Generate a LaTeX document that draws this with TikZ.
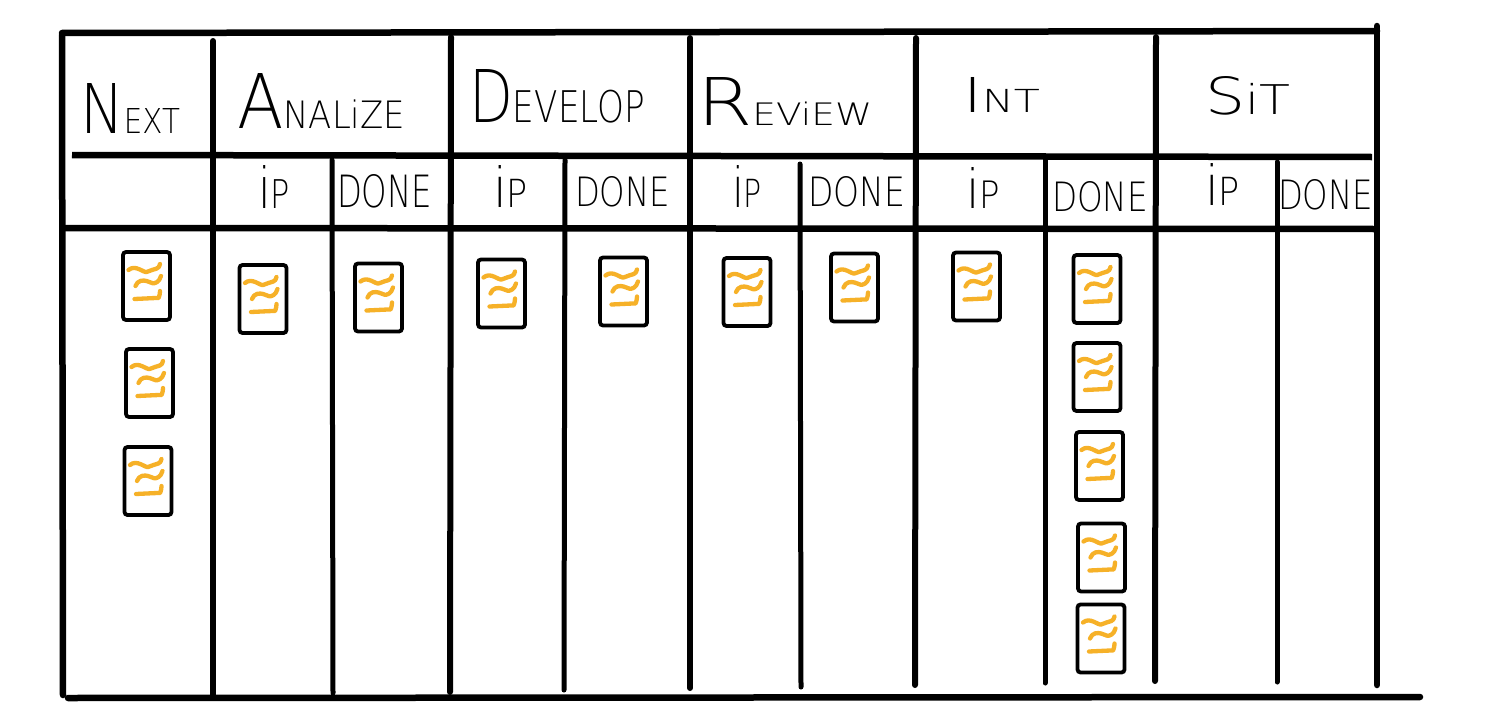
\documentclass[tikz,border=0pt]{standalone}
\usepackage{fontspec}
\setmainfont{DejaVu Sans ExtraLight}
\usepackage{graphicx}
\newcommand{\hwtitle}[5]{\resizebox{#1pt}{#2pt}{#3\scalebox{#5}{#4}}}
\newcommand{\hwbox}[3]{\resizebox{#1pt}{#2pt}{#3}}
\definecolor{stickyline}{HTML}{F6B128}
\tikzset{
  frame/.style={line width=6.5pt, line cap=round},
  major/.style={line width=6pt, line cap=round},
  minor/.style={line width=5pt, line cap=round},
  title/.style={anchor=south west, inner sep=0pt, outer sep=0pt},
  squig/.style={draw=stickyline, line width=4.3pt, line cap=round, line join=round},
  card/.style={draw, line width=3.8pt, rounded corners=3pt, minimum width=47pt,
    minimum height=68pt, inner sep=0pt, fill=white,
    path picture={
      \begin{scope}[shift={(path picture bounding box.center)}]
        \draw[squig] (-18,-16) .. controls (-11,-22) and (-3,-13) .. (3,-15)
                     .. controls (8,-17) and (13,-17) .. (13.5,-22);
        \draw[squig] (-11,0) .. controls (-9,-6) and (-3,-6) .. (3,-4)
                     .. controls (8,-2) and (13,-4) .. (14.5,-10);
        \draw[squig] (-12,13) -- (9,12) .. controls (12,12) and (13.5,9) .. (13.5,5);
      \end{scope}
    }}
}
\begin{document}
\begin{tikzpicture}[x=1pt,y=-1pt]
\useasboundingbox (0,0) rectangle (1500,712);
% outer frame
\draw[frame] (62,33) -- (1377,31);
\draw[frame] (62,35) -- (63,695);
\draw[frame] (68,698) -- (1420,697);
\draw[frame] (1377,26) -- (1377,685);
% horizontal dividers
\draw[line width=6.5pt] (72,155) -- (1372,157);
\draw[line width=6.5pt] (62,228) -- (1376,229);
% major verticals
\draw[major] (213,41) -- (213,695);
\draw[major] (451,37) -- (450,692);
\draw[major] (690,38) -- (690,688);
\draw[major] (916,38) -- (915,685);
\draw[major] (1156,37) -- (1155,681);
% minor verticals
\draw[minor] (332,160) -- (333,693);
\draw[minor] (565,160) -- (564,690);
\draw[minor] (800,164) -- (801,687);
\draw[minor] (1045,160) -- (1045,683);
\draw[minor] (1277,162) -- (1277,682);
% column titles
\node[title] (tNext) at (80,133) {\hwtitle{100}{50}{N}{EXT}{0.5}};
\node[title] (tAnalize) at (237,128) {\hwtitle{168}{55}{A}{NALiZE}{0.5}};
\node[title] (tDevelop) at (469,123) {\hwtitle{176}{53}{D}{EVELOP}{0.6}};
\node[title] (tReview) at (697,125) {\hwtitle{175}{48}{R}{EViEW}{0.47}};
\node[title] (tInt) at (963,112) {\hwtitle{77}{35}{I}{NT}{0.66}};
\node[title] (tSit) at (1205,115) {\hwtitle{85}{38}{S}{iT}{0.8}};
% sub titles
\node[title] (ipA) at (258,208) {\hwbox{32}{43}{i\scalebox{0.7}{P}}};
\node[title] (doneA) at (337,208) {\hwbox{95}{33}{DONE}};
\node[title] (ipD) at (493,207) {\hwbox{35}{42}{i\scalebox{0.7}{P}}};
\node[title] (doneD) at (575,207) {\hwbox{95}{30}{DONE}};
\node[title] (ipR) at (732,207) {\hwbox{30}{42}{i\scalebox{0.7}{P}}};
\node[title] (doneR) at (808,207) {\hwbox{97}{30}{DONE}};
\node[title] (ipI) at (966,208) {\hwbox{34}{41}{i\scalebox{0.7}{P}}};
\node[title] (doneI) at (1052,212) {\hwbox{96}{30}{DONE}};
\node[title] (ipS) at (1205,205) {\hwbox{35}{42}{i\scalebox{0.7}{P}}};
\node[title] (doneS) at (1278,210) {\hwbox{95}{30}{DONE}};
% cards
\node[card] (n1) at (146.5,286) {};
\node[card] (n2) at (149.5,383) {};
\node[card] (n3) at (148,481) {};
\node[card] (a1) at (263,299) {};
\node[card] (a2) at (378.5,297.5) {};
\node[card] (d1) at (501.5,293.5) {};
\node[card] (d2) at (623.5,291.5) {};
\node[card] (r1) at (747,292) {};
\node[card] (r2) at (854.5,287.5) {};
\node[card] (i1) at (976.5,286.5) {};
\node[card] (i2) at (1097,289) {};
\node[card] (i3) at (1097,377) {};
\node[card] (i4) at (1099.5,466) {};
\node[card] (i5) at (1101.5,557.5) {};
\node[card] (i6) at (1101,638.5) {};
\end{tikzpicture}
\end{document}
